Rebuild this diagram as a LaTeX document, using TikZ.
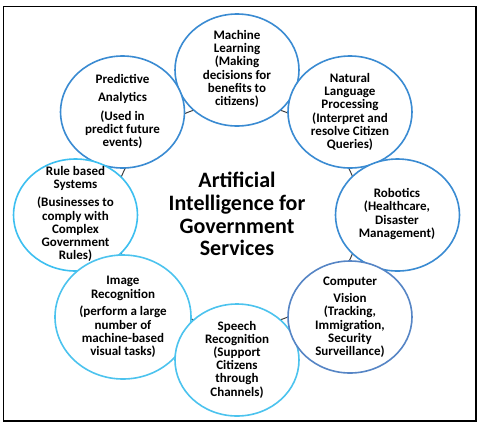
\documentclass[tikz,border=0pt]{standalone}
\usepackage{fontspec}
\setmainfont{Carlito}
\usetikzlibrary{shapes.geometric}
\definecolor{blueA}{HTML}{3A8BD2}
\definecolor{cyanA}{HTML}{3DBFF0}
\definecolor{cyanB}{HTML}{4CC3EE}
\definecolor{blueC}{HTML}{5685C5}
\definecolor{ringc}{HTML}{404040}
\begin{document}
\begin{tikzpicture}[x=1pt,y=-1pt,
  bub/.style={ellipse, draw=#1, line width=1.6pt, fill=white,
    minimum width=124pt, minimum height=112pt, inner sep=0pt},
  bigbub/.style={bub=#1, minimum width=136pt, minimum height=124pt},
  txt/.style={align=center, font=\fontsize{13}{13.2}\selectfont\bfseries,
    inner sep=0pt, text=black},
  ttl/.style={align=center, font=\fontsize{22}{22.7}\selectfont\bfseries,
    inner sep=0pt, text=black},
  ring/.style={draw=ringc, line width=1pt},
  frame/.style={draw=black, line width=1.5pt}]
\useasboundingbox (0,0) rectangle (481,426);
\draw[frame] (3.5,6.5) rectangle (476,421);
% connecting ring behind the bubbles
\draw[ring] (237,215) ellipse [x radius=123pt, y radius=112pt];
% bubbles
\node[bub=blueA] (ml) at (237,70) {};
\node[bub=blueA] (pa) at (122.5,112) {};
\node[bub=blueA] (nlp) at (350,112) {};
\node[bub=cyanA] (rb) at (75.5,215) {};
\node[bub=blueA] (rob) at (397.5,215) {};
\node[bigbub=cyanB] (ir) at (123,317) {};
\node[bub=cyanB] (sr) at (237,360) {};
\node[bub=blueC] (cv) at (350,317) {};
% texts
\node[txt] (mlt) at (237,69) {Machine\\Learning\\(Making\\decisions for\\benefits to\\citizens)};
\node[txt] (pat) at (122.5,111.5) {Predictive\\[5pt]Analytics\\[5pt](Used in\\predict future\\events)};
\node[txt] (nlpt) at (350,112) {Natural\\Language\\Processing\\(Interpret and\\resolve Citizen\\Queries)};
\node[txt] (rbt) at (75.5,214) {Rule based\\Systems\\[5pt](Businesses to\\comply with\\Complex\\Government\\Rules)};
\node[txt] (robt) at (397,214) {Robotics\\(Healthcare,\\Disaster\\Management)};
\node[txt] (irt) at (123,317) {Image\\Recognition\\[4.5pt](perform a large\\number of\\machine-based\\visual tasks)};
\node[txt] (srt) at (237,359.5) {Speech\\Recognition\\(Support\\Citizens\\through\\Channels)};
\node[txt] (cvt) at (350,317) {Computer\\[4.5pt]Vision\\(Tracking,\\Immigration,\\Security\\Surveillance)};
\node[ttl] (title) at (237,214) {Artificial\\Intelligence for\\Government\\Services};
\end{tikzpicture}
\end{document}
